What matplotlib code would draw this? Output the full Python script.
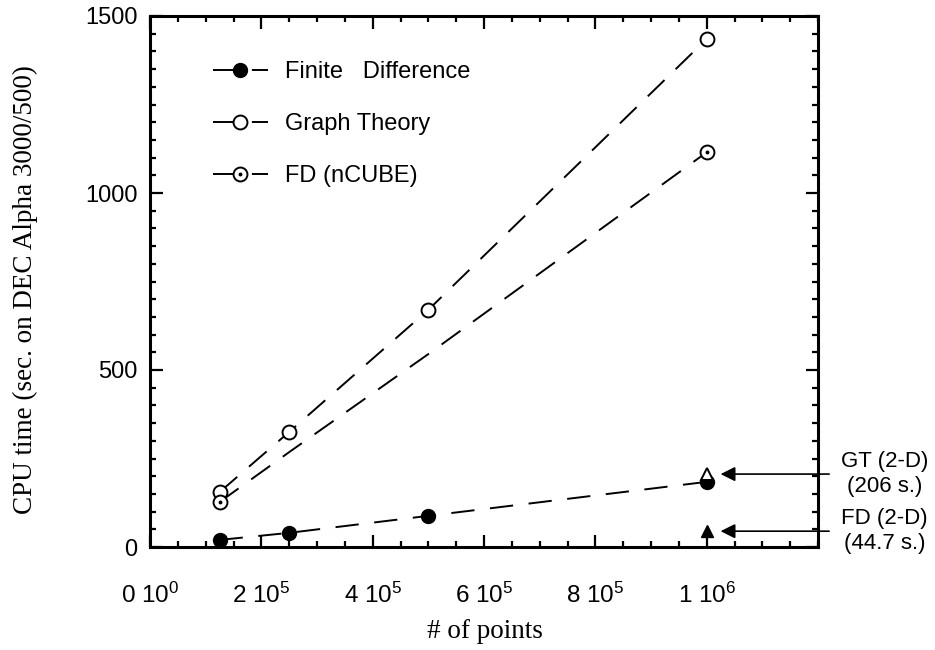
import matplotlib
matplotlib.use("Agg")
import matplotlib.pyplot as plt
from matplotlib.ticker import MultipleLocator, FixedLocator

# ---- data ----
n_points = [1.25e5, 2.5e5, 5e5, 1e6]
finite_difference = [20, 40, 88, 184]
graph_theory = [155, 325, 670, 1435]
fd_ncube = [127, 268, 545, 1115]
ncube_marked = [0, 3]

gt_2d_x, gt_2d_y = 1e6, 206
fd_2d_x, fd_2d_y = 1e6, 44.7

xticks = [0, 2e5, 4e5, 6e5, 8e5, 1e6]
xticklabels = ['0 10$^0$', '2 10$^5$', '4 10$^5$', '6 10$^5$', '8 10$^5$', '1 10$^6$']
yticks = [0, 500, 1000, 1500]

plt.rcParams['font.family'] = ['Liberation Sans', 'DejaVu Sans']
plt.rcParams['mathtext.default'] = 'regular'

fig = plt.figure(figsize=(9.35, 6.5), dpi=100)
ax = fig.add_axes([150/935, 1-547/650, 668/935, 531/650])

lw = 1.4
dash = (12, 8)
ms = 10

l_fd, = ax.plot(n_points, finite_difference, color='black', lw=lw, dashes=dash,
                marker='o', ms=ms, mfc='black', mec='black')
l_gt, = ax.plot(n_points, graph_theory, color='black', lw=lw, dashes=dash,
                marker='o', ms=ms, mfc='white', mec='black', mew=1.4)
l_nc, = ax.plot(n_points, fd_ncube, color='black', lw=lw, dashes=dash,
                marker='o', ms=ms, mfc='white', mec='black', mew=1.4,
                markevery=ncube_marked)
l_nc_dot, = ax.plot([n_points[i] for i in ncube_marked], [fd_ncube[i] for i in ncube_marked],
                    ls='none', marker='o', ms=1.8, color='black')

ax.plot([gt_2d_x], [gt_2d_y], ls='none', marker='^', ms=9, mfc='white', mec='black', mew=1.4)
ax.plot([fd_2d_x], [fd_2d_y], ls='none', marker='^', ms=9, mfc='black', mec='black')

ax.set_xlim(0, 1.2e6)
ax.set_ylim(0, 1500)
ax.xaxis.set_major_locator(FixedLocator(xticks))
ax.set_xticklabels(xticklabels)
ax.xaxis.set_minor_locator(MultipleLocator(5e4))
ax.yaxis.set_major_locator(FixedLocator(yticks))
ax.yaxis.set_minor_locator(MultipleLocator(50))

ax.tick_params(which='both', direction='in', top=True, right=True, width=1.6)
ax.tick_params(which='major', length=9)
ax.tick_params(which='minor', length=4)
ax.tick_params(axis='x', which='major', labelsize=17.5, pad=26)
ax.tick_params(axis='y', which='major', labelsize=17, pad=9)
for sp in ax.spines.values():
    sp.set_linewidth(2.2)

ax.set_xlabel('# of points', family='Liberation Serif', fontsize=19.5, va='center')
ax.xaxis.set_label_coords(0.501, -0.160)
ax.set_ylabel('CPU time (sec. on DEC Alpha 3000/500)', family='Liberation Serif',
              fontsize=19.5, va='center')
ax.yaxis.set_label_coords(-0.186, 0.484)

leg = ax.legend([l_fd, l_gt, (l_nc, l_nc_dot)],
                ['Finite   Difference', 'Graph Theory', 'FD (nCUBE)'],
                loc='upper left', bbox_to_anchor=(0.063, 0.955), frameon=False,
                fontsize=17, handlelength=2.3, labelspacing=1.27, handletextpad=0.75)

# annotations for 2-D results
for yv, txt in [(gt_2d_y, 'GT (2-D)\n(206 s.)'), (fd_2d_y, 'FD (2-D)\n(44.7 s.)')]:
    ax.annotate('', xy=(1.025e6, yv), xytext=(1.22e6, yv),
                xycoords='data', textcoords='data', annotation_clip=False,
                arrowprops=dict(arrowstyle='-|>', lw=1.2, color='black',
                                mutation_scale=22, shrinkA=0, shrinkB=0))
    ax.text(1.32e6, yv, txt, ha='center', va='center', fontsize=16,
            linespacing=1.25, clip_on=False)

fig.savefig('out.png', dpi=100)
